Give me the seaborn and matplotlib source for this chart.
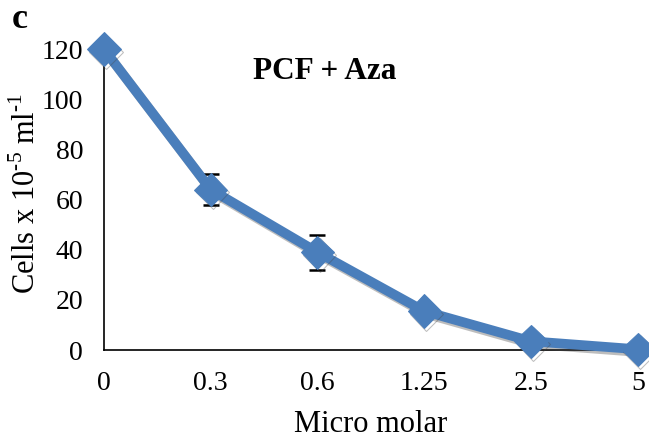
import matplotlib
matplotlib.use("Agg")
import matplotlib.pyplot as plt
import matplotlib.patheffects as pe
import seaborn as sns
import pandas as pd

# Cell counts after PCF + Aza treatment
doses = ["0", "0.3", "0.6", "1.25", "2.5", "5"]
cells = [120, 64, 39, 15.5, 3.5, 0.3]
errors = [0, 6, 7, 0, 0, 0]

sns.set_style("white")
plt.rcParams["font.family"] = ["Liberation Serif", "DejaVu Serif"]
plt.rcParams["mathtext.fontset"] = "custom"
plt.rcParams["mathtext.rm"] = "Liberation Serif"
plt.rcParams["text.color"] = "black"
plt.rcParams["axes.labelcolor"] = "black"

df = pd.DataFrame({"pos": range(len(doses)), "cells": cells, "err": errors})

fig = plt.figure(figsize=(6.49, 4.42), dpi=100)
ax = fig.add_axes([0.160, 0.208, 0.823, 0.681])

color = "#4A7EBB"
# error bars sit behind the markers, only caps show
eb = df[df["err"] > 0]
ax.errorbar(eb["pos"], eb["cells"], yerr=eb["err"], fmt="none", ecolor="black",
            elinewidth=1.2, capsize=6, capthick=1.8, zorder=2, clip_on=False)
sns.lineplot(data=df, x="pos", y="cells", ax=ax, color=color, linewidth=7,
             marker="D", markersize=17, markeredgecolor=color, clip_on=False,
             zorder=3,
             path_effects=[pe.SimpleLineShadow(offset=(1.5, -2), alpha=0.35,
                                               shadow_color="#444444"),
                           pe.Normal()])

ax.set_xlim(0, len(doses) - 1)
ax.set_ylim(0, 120)
ax.set_yticks(range(0, 121, 20))
ax.set_xticks(range(len(doses)))
ax.set_xticklabels(doses)

for s in ["top", "right"]:
    ax.spines[s].set_visible(False)
for s in ["left", "bottom"]:
    ax.spines[s].set_color("black")
    ax.spines[s].set_linewidth(1.2)

ax.tick_params(axis="both", direction="out", length=6, width=1.2,
               colors="black", labelsize=20)
ax.tick_params(axis="y", pad=9)
ax.tick_params(axis="x", pad=9)

ax.set_xlabel("Micro molar", fontsize=22, labelpad=10, color="black")
ax.set_ylabel("Cells x 10$^{\\mathrm{‐5}}$ ml$^{\\mathrm{‐1}}$", fontsize=22,
              color="black")
ax.yaxis.set_label_coords(-0.115, 0.52)

ax.text(0.414, 0.924, "PCF + Aza", transform=ax.transAxes, ha="center",
        va="center", fontsize=22.5, fontweight="bold", color="black")
fig.text(0.030, 0.955, "c", fontsize=26, fontweight="bold", ha="center",
         va="center", color="black")

fig.savefig("out.png", dpi=100)
